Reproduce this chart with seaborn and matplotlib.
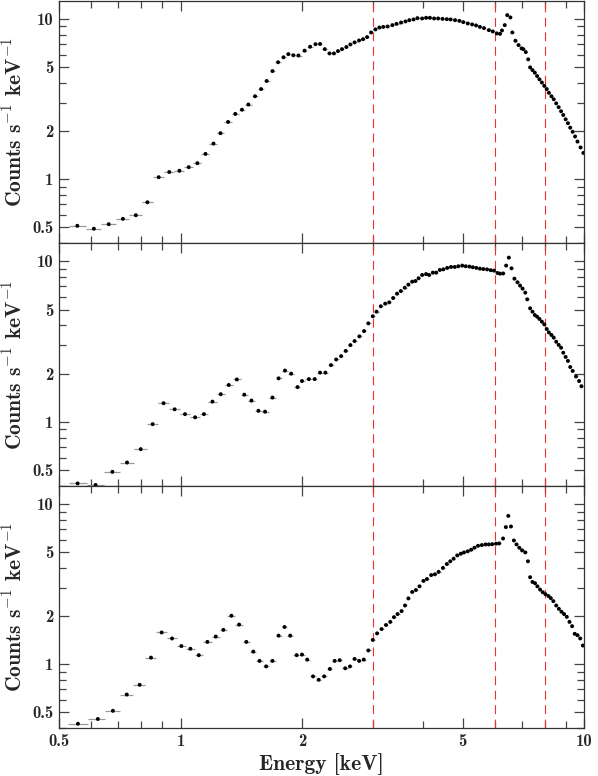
import numpy as np
import matplotlib.pyplot as plt
import seaborn as sns
import pandas as pd
from matplotlib.ticker import LogLocator, NullFormatter

# spectra (energy in keV, counts/s/keV)
e1 = [0.555, 0.610, 0.664, 0.720, 0.775, 0.828, 0.883, 0.938, 0.994, 1.048, 1.101, 1.153,
      1.207, 1.256, 1.312, 1.367, 1.420, 1.473, 1.530, 1.584, 1.635, 1.690, 1.745, 1.800,
      1.850, 1.904, 1.960, 2.03, 2.095, 2.16, 2.217, 2.278, 2.34, 2.40, 2.456, 2.513, 2.576,
      2.636, 2.70, 2.77, 2.834, 2.90, 2.967, 3.04, 3.11, 3.18, 3.26, 3.35, 3.43, 3.52, 3.61,
      3.69, 3.78, 3.865, 3.97, 4.06, 4.15, 4.25, 4.35, 4.46, 4.57, 4.67, 4.79, 4.91, 5.02,
      5.15, 5.28, 5.40, 5.52, 5.65, 5.81, 5.94, 6.08, 6.19, 6.26, 6.36, 6.45, 6.57, 6.64,
      6.76, 6.88, 7.0, 7.07, 7.17, 7.27, 7.35, 7.45, 7.55, 7.65, 7.75, 7.86, 7.97, 8.08,
      8.18, 8.30, 8.41, 8.53, 8.65, 8.77, 8.88, 9.0, 9.12, 9.24, 9.37, 9.50, 9.63, 9.80, 9.96]
c1 = [0.512, 0.491, 0.524, 0.566, 0.596, 0.718, 1.03, 1.11, 1.13, 1.19, 1.26, 1.44,
      1.67, 1.94, 2.28, 2.56, 2.72, 2.93, 3.30, 3.66, 4.11, 4.74, 5.38, 5.78,
      6.05, 5.95, 5.93, 6.36, 6.73, 6.98, 7.00, 6.50, 6.11, 6.11, 6.32, 6.50, 6.70,
      6.95, 7.16, 7.36, 7.50, 7.73, 8.26, 8.63, 8.87, 8.95, 9.00, 9.18, 9.35, 9.53, 9.68,
      9.86, 9.96, 10.15, 10.1, 10.2, 10.2, 10.1, 10.1, 10.05, 10.0, 9.96, 9.86, 9.76, 9.58,
      9.40, 9.27, 9.14, 8.95, 8.79, 8.54, 8.38, 8.15, 8.1, 8.5, 9.18, 10.6, 10.25, 8.26,
      7.33, 6.89, 6.57, 6.50, 6.23, 5.61, 5.0, 4.81, 4.63, 4.41, 4.21, 4.02, 3.83, 3.66,
      3.47, 3.30, 3.16, 2.98, 2.82, 2.66, 2.52, 2.37, 2.24, 2.10, 1.98, 1.85, 1.72, 1.58, 1.46]

e2 = [0.556, 0.616, 0.678, 0.737, 0.797, 0.853, 0.908, 0.967, 1.026, 1.087, 1.143, 1.20,
      1.258, 1.317, 1.379, 1.439, 1.499, 1.56, 1.62, 1.69, 1.75, 1.815, 1.88, 1.95, 2.0,
      2.08, 2.15, 2.217, 2.286, 2.36, 2.43, 2.50, 2.567, 2.636, 2.70, 2.775, 2.85, 2.92,
      2.995, 3.06, 3.135, 3.215, 3.29, 3.365, 3.44, 3.515, 3.595, 3.67, 3.75, 3.82, 3.89,
      3.97, 4.06, 4.13, 4.22, 4.30, 4.39, 4.48, 4.58, 4.68, 4.78, 4.88, 4.99, 5.09, 5.20,
      5.30, 5.41, 5.52, 5.63, 5.75, 5.87, 5.98, 6.10, 6.19, 6.30, 6.41, 6.51, 6.61, 6.72,
      6.84, 6.94, 7.04, 7.15, 7.23, 7.35, 7.45, 7.55, 7.65, 7.75, 7.86, 7.97, 8.08, 8.18,
      8.30, 8.41, 8.53, 8.65, 8.77, 8.88, 9.0, 9.12, 9.24, 9.37, 9.55, 9.72, 9.85]
c2 = [0.415, 0.406, 0.49, 0.56, 0.678, 0.97, 1.31, 1.20, 1.12, 1.07, 1.12, 1.34,
      1.49, 1.70, 1.84, 1.48, 1.36, 1.175, 1.16, 1.42, 1.87, 2.09, 2.0, 1.65, 1.80,
      1.85, 1.85, 2.03, 2.03, 2.26, 2.45, 2.57, 2.77, 3.01, 3.19, 3.41, 3.68, 4.11,
      4.55, 4.86, 5.25, 5.45, 5.55, 5.91, 6.29, 6.53, 6.85, 7.16, 7.47, 7.54, 7.84,
      8.22, 8.33, 8.22, 8.50, 8.50, 8.83, 8.91, 9.09, 9.22, 9.22, 9.31, 9.40, 9.31, 9.27,
      9.18, 9.10, 9.00, 8.95, 8.90, 8.80, 8.75, 8.46, 8.38, 8.40, 9.40, 10.54, 9.04, 7.80,
      7.40, 7.06, 6.76, 6.38, 5.80, 5.10, 4.86, 4.63, 4.52, 4.38, 4.21, 4.05, 3.79, 3.61,
      3.48, 3.35, 3.16, 3.02, 2.90, 2.70, 2.54, 2.40, 2.20, 2.08, 1.92, 1.80, 1.67]

e3 = [0.557, 0.624, 0.68, 0.736, 0.792, 0.845, 0.898, 0.953, 1.005, 1.058, 1.11, 1.166,
      1.223, 1.277, 1.337, 1.397, 1.456, 1.515, 1.57, 1.63, 1.69, 1.75, 1.81, 1.87, 1.94,
      2.0, 2.06, 2.13, 2.20, 2.27, 2.345, 2.41, 2.48, 2.56, 2.63, 2.70, 2.77, 2.845, 2.92,
      2.995, 3.07, 3.15, 3.23, 3.31, 3.38, 3.45, 3.53, 3.60, 3.67, 3.75, 3.83, 3.91, 4.0,
      4.08, 4.18, 4.27, 4.36, 4.47, 4.57, 4.66, 4.75, 4.85, 4.95, 5.04, 5.15, 5.25, 5.35,
      5.46, 5.58, 5.70, 5.81, 5.92, 6.05, 6.16, 6.30, 6.40, 6.49, 6.59, 6.70, 6.80, 6.91,
      7.02, 7.15, 7.26, 7.35, 7.45, 7.56, 7.66, 7.78, 7.90, 8.02, 8.16, 8.27, 8.39, 8.53,
      8.66, 8.79, 8.92, 9.06, 9.20, 9.34, 9.48, 9.63, 9.78, 9.93]
c3 = [0.425, 0.455, 0.512, 0.647, 0.744, 1.10, 1.58, 1.45, 1.30, 1.25, 1.14, 1.38,
      1.49, 1.64, 2.01, 1.77, 1.38, 1.20, 1.05, 0.97, 1.05, 1.51, 1.71, 1.51, 1.14,
      1.15, 1.07, 0.84, 0.80, 0.84, 0.935, 1.05, 1.06, 0.944, 0.97, 1.08, 1.05, 1.07, 1.22,
      1.42, 1.56, 1.66, 1.76, 1.84, 1.97, 2.06, 2.15, 2.33, 2.58, 2.83, 2.91, 3.07, 3.32,
      3.41, 3.61, 3.65, 3.78, 4.0, 4.23, 4.40, 4.57, 4.79, 4.91, 5.0, 5.08, 5.20, 5.35,
      5.50, 5.56, 5.61, 5.61, 5.63, 5.67, 5.69, 6.11, 7.2, 8.46, 7.26, 5.94, 5.61, 5.35,
      5.15, 5.0, 4.40, 3.50, 3.27, 3.21, 3.07, 2.93, 2.82, 2.74, 2.67, 2.59, 2.48, 2.33,
      2.22, 2.13, 2.06, 1.98, 1.84, 1.73, 1.55, 1.52, 1.45, 1.31]

line_energies = [3, 6, 8]
xticks = [0.5, 1, 2, 5, 10]
xticklabels = ["0.5", "1", "2", "5", "10"]
yticks = [0.5, 1, 2, 5, 10]
yticklabels = ["0.5", "1", "2", "5", "10"]

sns.set_theme(style="ticks")
plt.rcParams["font.family"] = ["cmb10", "DejaVu Serif"]
plt.rcParams["mathtext.fontset"] = "cm"
plt.rcParams["axes.formatter.use_mathtext"] = True
plt.rcParams["axes.unicode_minus"] = False


def half_widths(e):
    e = np.asarray(e)
    edges = np.sqrt(e[:-1] * e[1:])
    lo = np.r_[e[0] ** 2 / edges[0], edges]
    hi = np.r_[edges, e[-1] ** 2 / edges[-1]]
    return np.vstack([e - lo, hi - e])


fig = plt.figure(figsize=(5.98, 7.76), dpi=100)
bottoms = [0.6869, 0.3737, 0.0619]
heights = [0.3119, 0.3132, 0.3118]
panels = [(e1, c1), (e2, c2), (e3, c3)]

for i, (e, c) in enumerate(panels):
    ax = fig.add_axes([0.0987, bottoms[i], 0.878, heights[i]])
    df = pd.DataFrame({"E": e, "C": c})
    ax.errorbar(df["E"], df["C"], xerr=half_widths(e), fmt="none",
                ecolor="#9a9a9a", elinewidth=0.9, zorder=2)
    sns.scatterplot(data=df, x="E", y="C", ax=ax, color="black", s=8,
                    edgecolor="none", zorder=3)
    for xl in line_energies:
        ax.axvline(xl, color="#ee3030", lw=0.8, ls=(0, (8, 5)), zorder=1)
    ax.set_xscale("log")
    ax.set_yscale("log")
    ax.set_xlim(0.5, 10)
    ax.set_ylim(0.40, 13.0)
    ax.set_xticks(xticks)
    ax.set_yticks(yticks)
    ax.set_yticklabels(yticklabels)
    ax.xaxis.set_minor_locator(LogLocator(base=10, subs=np.arange(2, 10)))
    ax.yaxis.set_minor_locator(LogLocator(base=10, subs=np.arange(2, 10)))
    ax.xaxis.set_minor_formatter(NullFormatter())
    ax.yaxis.set_minor_formatter(NullFormatter())
    ax.tick_params(which="both", direction="in", top=True, right=True,
                   color="#444444", width=0.9, labelsize=12, pad=4)
    ax.tick_params(which="major", length=7)
    ax.tick_params(which="minor", length=5)
    for sp in ax.spines.values():
        sp.set_color("#333333")
        sp.set_linewidth(0.9)
    ax.set_ylabel(r"Counts s$^{-1}$ keV$^{-1}$", fontsize=15.5)
    ax.yaxis.set_label_coords(-0.064, 0.5)
    if i < 2:
        ax.set_xticklabels([])
        ax.set_xlabel("")
    else:
        ax.set_xticklabels(xticklabels)
        ax.set_xlabel("Energy [keV]", fontsize=15.5, labelpad=3)

fig.savefig("out.png", dpi=100)
